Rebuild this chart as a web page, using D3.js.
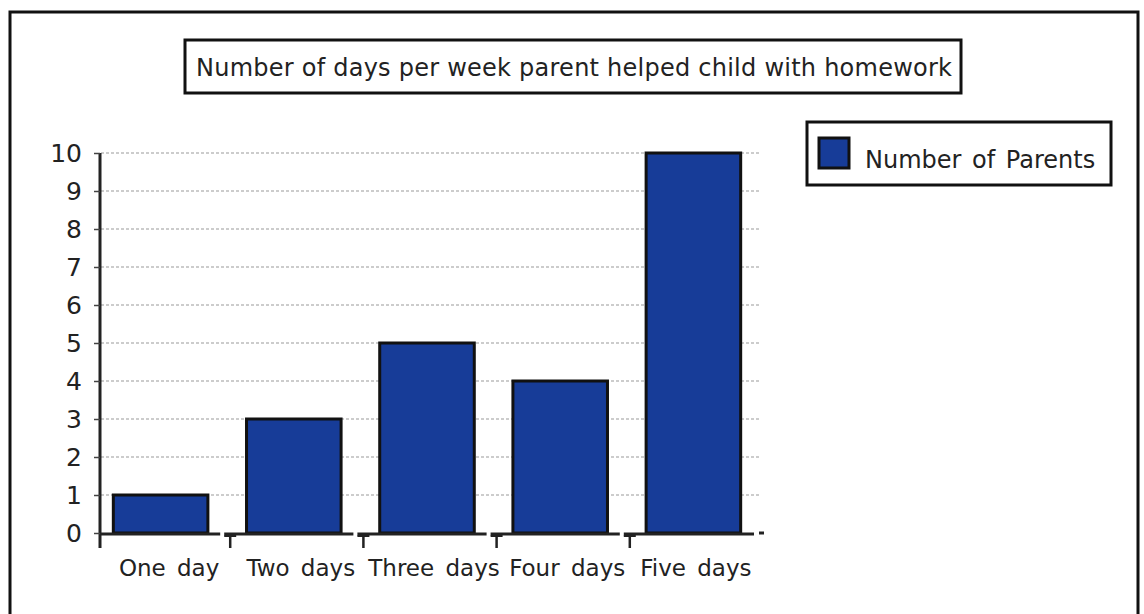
<!DOCTYPE html>
<html>
<head>
<meta charset="utf-8">
<script src="https://cdn.jsdelivr.net/npm/d3@7"></script>
<style>
  body { margin: 0; background: #fff; }
  text { font-family: "DejaVu Sans", sans-serif; fill: #222; }
</style>
</head>
<body>
<script>
// chart data
const categories = ["One day", "Two days", "Three days", "Four days", "Five days"];
const parents = [1, 3, 5, 4, 10];
const yTicks = [0, 1, 2, 3, 4, 5, 6, 7, 8, 9, 10];
const title = "Number of days per week parent helped child with homework";
const seriesName = "Number of Parents";

const width = 1144;
const height = 614;
const barColor = "#173c98";

const svg = d3.select("body").append("svg")
  .attr("width", width)
  .attr("height", height);

// outer frame (bottom edge runs off the picture)
svg.append("path")
  .attr("d", "M10,620 V12 H1138 V620")
  .attr("fill", "none")
  .attr("stroke", "#111")
  .attr("stroke-width", 3);

// title box
svg.append("rect")
  .attr("x", 185).attr("y", 40)
  .attr("width", 776).attr("height", 53)
  .attr("fill", "#fff")
  .attr("stroke", "#111")
  .attr("stroke-width", 3);

svg.append("text")
  .attr("x", 574).attr("y", 76)
  .attr("text-anchor", "middle")
  .attr("font-size", 24)
  .attr("textLength", 756)
  .text(title);

// scales
const x = d3.scaleBand()
  .domain(categories)
  .range([100, 754])
  .paddingInner(0.29)
  .paddingOuter(0.1);

const y = d3.scaleLinear()
  .domain([0, 10])
  .range([533, 153]);

// dashed gridlines
svg.append("g")
  .selectAll("line")
  .data(yTicks.filter(d => d > 0))
  .join("line")
  .attr("x1", 101)
  .attr("x2", 760)
  .attr("y1", d => y(d))
  .attr("y2", d => y(d))
  .attr("stroke", "#999")
  .attr("stroke-width", 1)
  .attr("stroke-dasharray", "3,2");

// bars
svg.append("g")
  .selectAll("rect")
  .data(parents)
  .join("rect")
  .attr("x", (d, i) => x(categories[i]))
  .attr("y", d => y(d))
  .attr("width", x.bandwidth())
  .attr("height", d => y(0) - y(d))
  .attr("fill", barColor)
  .attr("stroke", "#111")
  .attr("stroke-width", 3);

// y axis
const yAxis = svg.append("g")
  .attr("transform", "translate(100,0)")
  .call(d3.axisLeft(y).tickValues(yTicks).tickSize(6).tickPadding(12));

yAxis.select(".domain")
  .attr("stroke", "#222")
  .attr("stroke-width", 3)
  .attr("d", "M0,153 V548");
yAxis.selectAll(".tick line").attr("stroke", "#444").attr("stroke-width", 1.5);
yAxis.selectAll(".tick text")
  .attr("font-size", 25)
  .attr("fill", "#222")
  .attr("font-family", "DejaVu Sans, sans-serif");

// category boundaries: a little right of the middle of each gap
const gap = x.step() - x.bandwidth();
const bounds = [100].concat(categories.slice(1).map(c => x(c) - gap / 2 + 3), [754]);

// x axis baseline, broken at the category ticks
svg.append("g")
  .selectAll("line")
  .data(categories)
  .join("line")
  .attr("x1", (d, i) => bounds[i] + (i === 0 ? 0 : -6))
  .attr("x2", (d, i) => i === categories.length - 1 ? bounds[i + 1] : bounds[i + 1] - 10)
  .attr("y1", y(0) + 1)
  .attr("y2", y(0) + 1)
  .attr("stroke", "#222")
  .attr("stroke-width", 3);

// T-shaped category ticks
const tks = svg.append("g")
  .selectAll("g")
  .data(bounds.slice(1, categories.length))
  .join("g")
  .attr("transform", d => `translate(${d},${y(0)})`);
tks.append("line")
  .attr("x1", -6).attr("x2", 6)
  .attr("y1", 3).attr("y2", 3)
  .attr("stroke", "#222").attr("stroke-width", 2);
tks.append("line")
  .attr("x1", 0).attr("x2", 0)
  .attr("y1", 3).attr("y2", 15)
  .attr("stroke", "#222").attr("stroke-width", 2.5);

// small end dash
svg.append("line")
  .attr("x1", 759).attr("x2", 764)
  .attr("y1", y(0)).attr("y2", y(0))
  .attr("stroke", "#222").attr("stroke-width", 3);

// category labels
svg.append("g")
  .selectAll("text")
  .data(categories)
  .join("text")
  .attr("x", (d, i) => (bounds[i] + bounds[i + 1]) / 2 + 4)
  .attr("y", 576)
  .attr("text-anchor", "middle")
  .attr("font-size", 23)
  .attr("word-spacing", 4)
  .text(d => d);

// legend
svg.append("rect")
  .attr("x", 807).attr("y", 122)
  .attr("width", 304).attr("height", 63)
  .attr("fill", "#fff")
  .attr("stroke", "#111")
  .attr("stroke-width", 3);

svg.append("rect")
  .attr("x", 819).attr("y", 138)
  .attr("width", 30).attr("height", 30)
  .attr("fill", barColor)
  .attr("stroke", "#111")
  .attr("stroke-width", 3);

svg.append("text")
  .attr("x", 865).attr("y", 168)
  .attr("font-size", 24)
  .attr("word-spacing", 3)
  .text(seriesName);
</script>
</body>
</html>
